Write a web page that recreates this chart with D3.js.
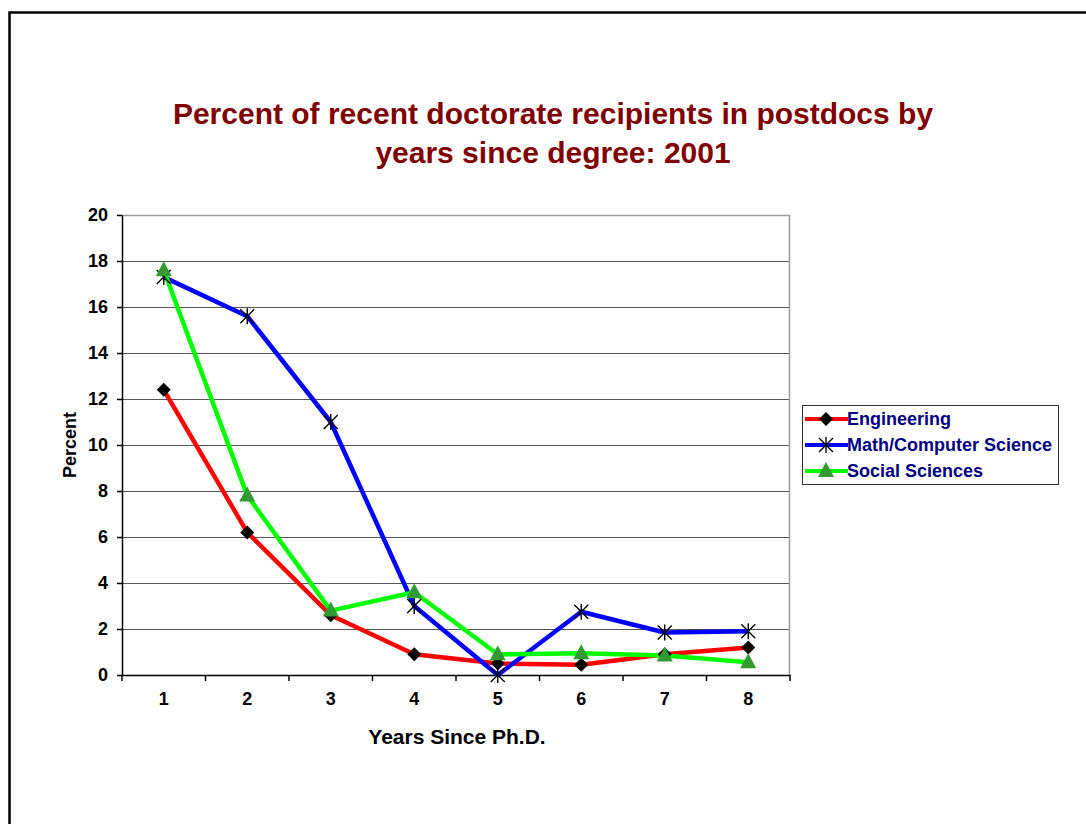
<!DOCTYPE html>
<html>
<head>
<meta charset="utf-8">
<script src="https://cdn.jsdelivr.net/npm/d3@7/dist/d3.min.js"></script>
<style>
  body { margin: 0; background: #fff; }
  text { font-family: "Liberation Sans", Arial, sans-serif; font-weight: bold; }
</style>
</head>
<body>
<svg id="chart" width="1086" height="824"></svg>
<script>
// data
const years = [1, 2, 3, 4, 5, 6, 7, 8];
const engineering = [12.4, 6.2, 2.6, 0.9, 0.5, 0.45, 0.9, 1.2];
const mathCS = [17.3, 15.6, 11.0, 3.0, 0.0, 2.75, 1.85, 1.9];
const socialSci = [17.6, 7.8, 2.8, 3.6, 0.9, 0.95, 0.85, 0.55];
const yTicks = [0, 2, 4, 6, 8, 10, 12, 14, 16, 18, 20];

const seriesNames = ["Engineering", "Math/Computer Science", "Social Sciences"];
const seriesColors = ["#ff0000", "#0000ff", "#00ff00"];
const seriesData = [engineering, mathCS, socialSci];

const svg = d3.select("#chart");

// outer frame
svg.append("rect").attr("x", 9.5).attr("y", 12.5).attr("width", 1100).attr("height", 840)
  .attr("fill", "none").attr("stroke", "#000").attr("stroke-width", 2.5);

const margin = {top: 215, left: 122};
const width = 668, height = 460;
const g = svg.append("g").attr("transform", "translate(" + margin.left + "," + margin.top + ")");

const x = d3.scaleBand().domain(years).range([0, width]);
const y = d3.scaleLinear().domain([0, 20]).range([height, 0]);

// gridlines
g.selectAll(".grid").data(yTicks.filter(d => d > 0 && d < 20)).enter().append("line")
  .attr("x1", 0).attr("x2", width)
  .attr("y1", d => y(d) + 0.5).attr("y2", d => y(d) + 0.5)
  .attr("stroke", "#555").attr("stroke-width", 1);

// plot border top/right
g.append("path").attr("d", "M0," + (y(20) + 0.5) + "H" + (width - 0.5) + "V" + height)
  .attr("fill", "none").attr("stroke", "#999").attr("stroke-width", 1.5);

// y axis
const yAxis = g.append("g").call(d3.axisLeft(y).tickValues(yTicks).tickSize(5).tickPadding(9).tickSizeOuter(0));
yAxis.select(".domain").attr("stroke", "#000").attr("stroke-width", 1.5);
yAxis.selectAll(".tick line").attr("stroke", "#000").attr("stroke-width", 1.5);
yAxis.selectAll(".tick text").attr("font-size", 18).attr("fill", "#000")
  .attr("font-family", "Liberation Sans, Arial, sans-serif").attr("font-weight", "bold");

// x axis
const xAxis = g.append("g").attr("transform", "translate(0," + height + ")")
  .call(d3.axisBottom(x).tickSize(0).tickPadding(17));
xAxis.select(".domain").attr("stroke", "#000").attr("stroke-width", 1.5);
xAxis.selectAll(".tick text").attr("font-size", 18).attr("fill", "#000")
  .attr("font-family", "Liberation Sans, Arial, sans-serif").attr("font-weight", "bold");
xAxis.selectAll(".sep").data(d3.range(years.length + 1)).enter().append("line")
  .attr("x1", i => i * x.step()).attr("x2", i => i * x.step())
  .attr("y1", 0).attr("y2", 6).attr("stroke", "#000").attr("stroke-width", 1.5);

const cx = d => x(d) + x.bandwidth() / 2;

// lines
const line = d3.line().x((d, i) => cx(years[i])).y(d => y(d));
seriesData.forEach((data, k) => {
  g.append("path").datum(data).attr("fill", "none")
    .attr("stroke", seriesColors[k]).attr("stroke-width", 4.5)
    .attr("stroke-linejoin", "round").attr("d", line);
});

// markers
const drawMarker = (sel, k, px, py) => {
  if (k === 0) {
    sel.append("path").attr("d", "M0,-7L7,0L0,7L-7,0Z")
      .attr("transform", "translate(" + px + "," + py + ")").attr("fill", "#000");
  } else if (k === 1) {
    sel.append("path")
      .attr("d", "M-7,-7L7,7M-7,7L7,-7M0,-8V8")
      .attr("transform", "translate(" + px + "," + py + ")")
      .attr("stroke", "#000").attr("stroke-width", 1.4).attr("fill", "none");
  } else {
    sel.append("path").attr("d", "M0,-9L8,6H-8Z")
      .attr("transform", "translate(" + px + "," + py + ")").attr("fill", "#339933");
  }
};
seriesData.forEach((data, k) => {
  data.forEach((v, i) => drawMarker(g, k, cx(years[i]), y(v)));
});

// title
const title = svg.append("text").attr("x", 553).attr("text-anchor", "middle")
  .attr("font-size", 30).attr("fill", "#800000");
title.append("tspan").attr("x", 553).attr("y", 124).text("Percent of recent doctorate recipients in postdocs by");
title.append("tspan").attr("x", 553).attr("y", 163).text("years since degree: 2001");

// axis titles
svg.append("text").attr("transform", "translate(76,445) rotate(-90)").attr("text-anchor", "middle")
  .attr("font-size", 18).attr("fill", "#000").text("Percent");
svg.append("text").attr("x", 457).attr("y", 744).attr("text-anchor", "middle")
  .attr("font-size", 21).attr("fill", "#000").text("Years Since Ph.D.");

// legend
const lg = svg.append("g").attr("transform", "translate(802,405)");
lg.append("rect").attr("x", 0.5).attr("y", 0.5).attr("width", 256).attr("height", 79)
  .attr("fill", "#fff").attr("stroke", "#333").attr("stroke-width", 1);
seriesNames.forEach((name, k) => {
  const ly = 14 + k * 26;
  lg.append("line").attr("x1", 3).attr("x2", 46).attr("y1", ly).attr("y2", ly)
    .attr("stroke", seriesColors[k]).attr("stroke-width", 4);
  drawMarker(lg, k, 24, ly);
  lg.append("text").attr("x", 45).attr("y", ly + 6).attr("font-size", 18)
    .attr("fill", "#000080").text(name);
});
</script>
</body>
</html>
